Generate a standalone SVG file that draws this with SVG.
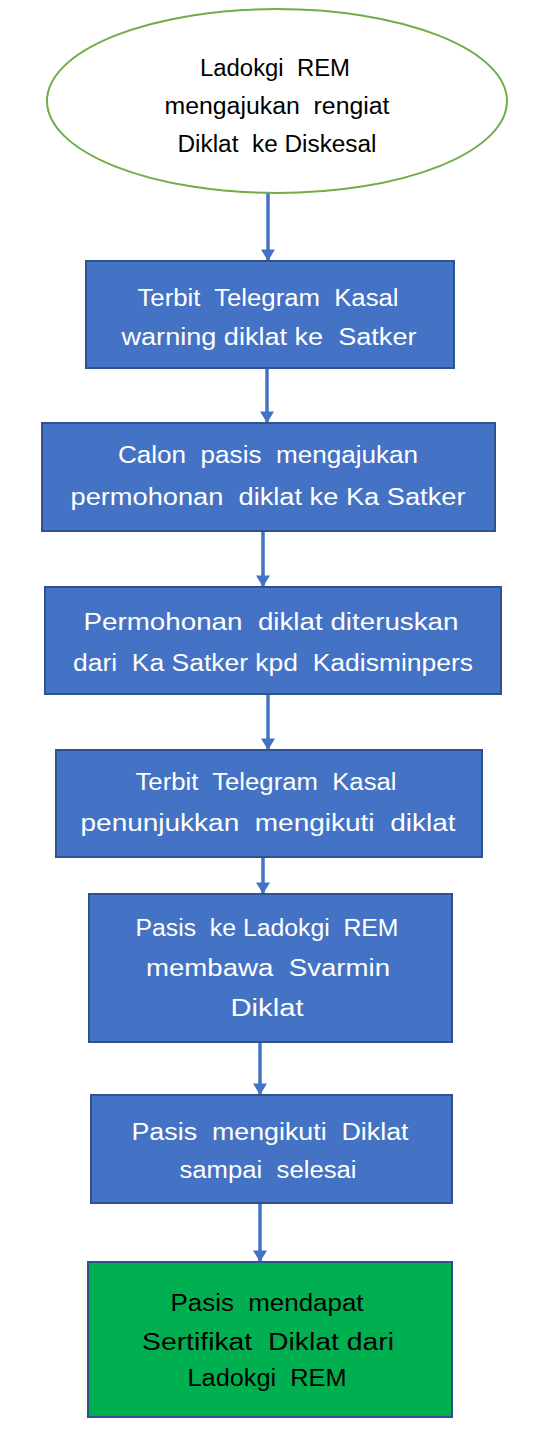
<svg xmlns="http://www.w3.org/2000/svg" width="550" height="1430" viewBox="0 0 550 1430">
<style>
.box{fill:#4472C4;stroke:#2F528F;stroke-width:2}
.green{fill:#00B050;stroke:#2F528F;stroke-width:2}
.ell{fill:#FFFFFF;stroke:#70AD47;stroke-width:2}
text{font-family:"Liberation Sans",Arial,sans-serif;font-size:23px;text-anchor:middle;dominant-baseline:central;white-space:pre}
.tw{fill:#FFFFFF}
.tb{fill:#000000}
.conn{stroke:#4472C4;stroke-width:3.5;fill:none;marker-end:url(#ah)}
</style>
<defs>
<marker id="ah" markerWidth="4" markerHeight="4" refX="3.3" refY="2" orient="auto" markerUnits="strokeWidth">
<path d="M0,0 L3.3,2 L0,4 Z" fill="#4472C4"/>
</marker>
</defs>
<rect width="550" height="1430" fill="#FFFFFF"/>
<g id="connectors">
<line class="conn" x1="268" y1="193" x2="268" y2="261"/>
<line class="conn" x1="267" y1="368" x2="267" y2="423"/>
<line class="conn" x1="263" y1="531" x2="263" y2="587"/>
<line class="conn" x1="268" y1="694" x2="268" y2="750"/>
<line class="conn" x1="263" y1="857" x2="263" y2="894"/>
<line class="conn" x1="260" y1="1042" x2="260" y2="1095"/>
<line class="conn" x1="260" y1="1203" x2="260" y2="1262"/>
</g>
<g id="n0">
<ellipse class="ell" cx="277" cy="101" rx="230" ry="92"/>
<text class="tb" x="275" y="68" textLength="150" lengthAdjust="spacingAndGlyphs">Ladokgi  REM</text>
<text class="tb" x="277" y="106" textLength="225" lengthAdjust="spacingAndGlyphs">mengajukan  rengiat</text>
<text class="tb" x="277" y="144" textLength="199" lengthAdjust="spacingAndGlyphs">Diklat  ke Diskesal</text>
</g>
<g id="n1">
<rect class="box" x="86" y="261" width="368" height="107"/>
<text class="tw" x="268" y="298" textLength="261" lengthAdjust="spacingAndGlyphs">Terbit  Telegram  Kasal</text>
<text class="tw" x="269" y="337" textLength="295" lengthAdjust="spacingAndGlyphs">warning diklat ke  Satker</text>
</g>
<g id="n2">
<rect class="box" x="42" y="423" width="453" height="108"/>
<text class="tw" x="268" y="455" textLength="300" lengthAdjust="spacingAndGlyphs">Calon  pasis  mengajukan</text>
<text class="tw" x="268" y="497" textLength="395" lengthAdjust="spacingAndGlyphs">permohonan  diklat ke Ka Satker</text>
</g>
<g id="n3">
<rect class="box" x="45" y="587" width="456" height="107"/>
<text class="tw" x="271" y="622" textLength="375" lengthAdjust="spacingAndGlyphs">Permohonan  diklat diteruskan</text>
<text class="tw" x="273" y="663" textLength="400" lengthAdjust="spacingAndGlyphs">dari  Ka Satker kpd  Kadisminpers</text>
</g>
<g id="n4">
<rect class="box" x="56" y="750" width="426" height="107"/>
<text class="tw" x="266" y="782" textLength="261" lengthAdjust="spacingAndGlyphs">Terbit  Telegram  Kasal</text>
<text class="tw" x="268" y="823" textLength="375" lengthAdjust="spacingAndGlyphs">penunjukkan  mengikuti  diklat</text>
</g>
<g id="n5">
<rect class="box" x="89" y="894" width="363" height="148"/>
<text class="tw" x="267" y="928" textLength="263" lengthAdjust="spacingAndGlyphs">Pasis  ke Ladokgi  REM</text>
<text class="tw" x="268" y="968" textLength="244" lengthAdjust="spacingAndGlyphs">membawa  Svarmin</text>
<text class="tw" x="267" y="1008" textLength="73" lengthAdjust="spacingAndGlyphs">Diklat</text>
</g>
<g id="n6">
<rect class="box" x="91" y="1095" width="361" height="108"/>
<text class="tw" x="270" y="1132" textLength="277" lengthAdjust="spacingAndGlyphs">Pasis  mengikuti  Diklat</text>
<text class="tw" x="268" y="1170" textLength="177" lengthAdjust="spacingAndGlyphs">sampai  selesai</text>
</g>
<g id="n7">
<rect class="green" x="88" y="1262" width="364" height="155"/>
<text class="tb" x="267" y="1303" textLength="193" lengthAdjust="spacingAndGlyphs">Pasis  mendapat</text>
<text class="tb" x="268" y="1342" textLength="252" lengthAdjust="spacingAndGlyphs">Sertifikat  Diklat dari</text>
<text class="tb" x="267" y="1378" textLength="159" lengthAdjust="spacingAndGlyphs">Ladokgi  REM</text>
</g>
</svg>
